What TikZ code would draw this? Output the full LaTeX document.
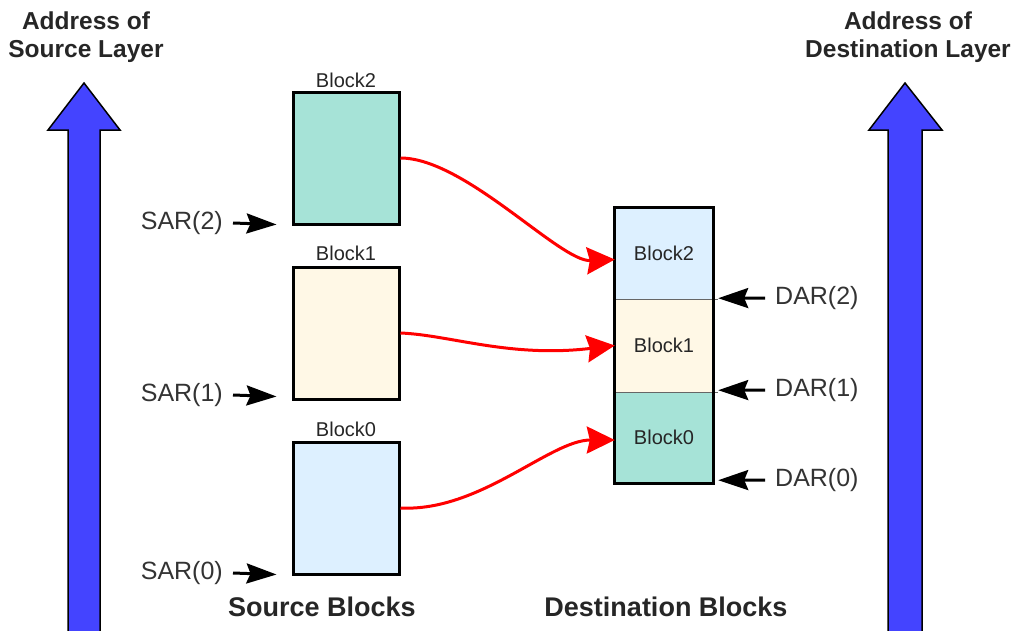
\documentclass[tikz,border=0pt]{standalone}
\usepackage{fontspec}
\setmainfont{Liberation Sans}
\usetikzlibrary{arrows.meta}
\definecolor{tealb}{RGB}{166,227,215}
\definecolor{creamb}{RGB}{255,248,230}
\definecolor{blueb}{RGB}{221,240,255}
\definecolor{arrowblue}{RGB}{68,68,255}
\begin{document}
\begin{tikzpicture}[x=1pt,y=-1pt,
  title/.style={font=\fontsize{24.5}{28}\selectfont\bfseries, align=center, text=black!85, inner sep=0pt},
  foot/.style={font=\fontsize{27}{30}\selectfont\bfseries, text=black!85, inner sep=0pt},
  lbl/.style={font=\fontsize{20}{23}\selectfont, text=black!85, inner sep=0pt},
  addr/.style={font=\fontsize{25}{28}\selectfont, text=black!80, inner xsep=10pt, inner ysep=0pt},
  srcblock/.style={draw=black, line width=3pt, minimum width=106pt, minimum height=132pt, inner sep=0pt},
  dcell/.style={minimum width=98pt, inner sep=0pt, font=\fontsize{20}{23}\selectfont, text=black!85},
  bigarrow/.style={fill=arrowblue, draw=black, line width=1.5pt, line join=miter},
  move/.style={red, line width=3pt, -{Stealth[length=28pt,width=27pt,inset=3pt]}},
  ptr/.style={black, line width=3pt, -{Stealth[length=30pt,width=20pt,inset=4pt]}},
  divider/.style={draw=black!60, line width=1.2pt},
]
\useasboundingbox (0,0) rectangle (1019,630);

% big address arrows
\begin{scope}
\clip (0,0) rectangle (1019,630);
\draw[bigarrow] (68,640) -- (68,130) -- (48,130) -- (84,83) -- (120,130) -- (100,130) -- (100,640);
\draw[bigarrow] (888,640) -- (888,130) -- (869,130) -- (905,83) -- (942,130) -- (922,130) -- (922,640);
\end{scope}

% titles
\node[title] (tsrc) at (86,37) {Address of\\Source Layer};
\node[title] (tdst) at (908,37) {Address of\\Destination Layer};

% source blocks
\node[srcblock, fill=tealb]  (s2) at (346,158) {};
\node[srcblock, fill=creamb] (s1) at (346,333) {};
\node[srcblock, fill=blueb]  (s0) at (346,508) {};
\node[lbl] (l2) at (346,80) {Block2};
\node[lbl] (l1) at (346,253) {Block1};
\node[lbl] (l0) at (346,429) {Block0};

% destination blocks
\node[dcell, fill=blueb,  minimum height=91pt] (d2) at (664,253.5) {Block2};
\node[dcell, fill=creamb, minimum height=93pt] (d1) at (664,345.5) {Block1};
\node[dcell, fill=tealb,  minimum height=91pt] (d0) at (664,437.5) {Block0};
\draw[divider] (d2.south west) -- ([xshift=5pt]d2.south east);
\draw[divider] (d1.south west) -- ([xshift=5pt]d1.south east);
\draw[line width=3pt] (d2.north west) rectangle (d0.south east);

% moves
\draw[move] (s2.east) .. controls (465,158) and (560,262) .. ([yshift=-6pt]d2.west);
\draw[move] (s1.east) .. controls (450,335) and (510,358) .. (d1.west);
\draw[move] (s0.east) .. controls (480,512) and (550,440) .. ([yshift=-2.5pt]d0.west);

% source address registers
\node[addr, anchor=east] (sar2) at (233,223) {SAR(2)};
\node[addr, anchor=east] (sar1) at (233,395) {SAR(1)};
\node[addr, anchor=east] (sar0) at (233,573) {SAR(0)};
\draw[ptr] (sar2.east) -- ([xshift=-15pt,yshift=1pt]s2.south west);
\draw[ptr] (sar1.east) -- ([xshift=-15pt,yshift=4pt]s1.south west);
\draw[ptr] (sar0.east) -- ([xshift=-15pt,yshift=1pt]s0.south west);

% destination address registers
\node[addr, anchor=west] (dar2) at (765,298) {DAR(2)};
\node[addr, anchor=west] (dar1) at (765,390) {DAR(1)};
\node[addr, anchor=west] (dar0) at (765,480) {DAR(0)};
\draw[ptr] (dar2.west) -- ([xshift=5pt,yshift=1pt]d2.south east);
\draw[ptr] (dar1.west) -- ([xshift=5pt,yshift=2pt]d1.south east);
\draw[ptr] (dar0.west) -- ([xshift=5pt,yshift=3pt]d0.south east);

% footers
\node[foot] (fsrc) at (322,607) {Source Blocks};
\node[foot] (fdst) at (666,607) {Destination Blocks};
\end{tikzpicture}
\end{document}
